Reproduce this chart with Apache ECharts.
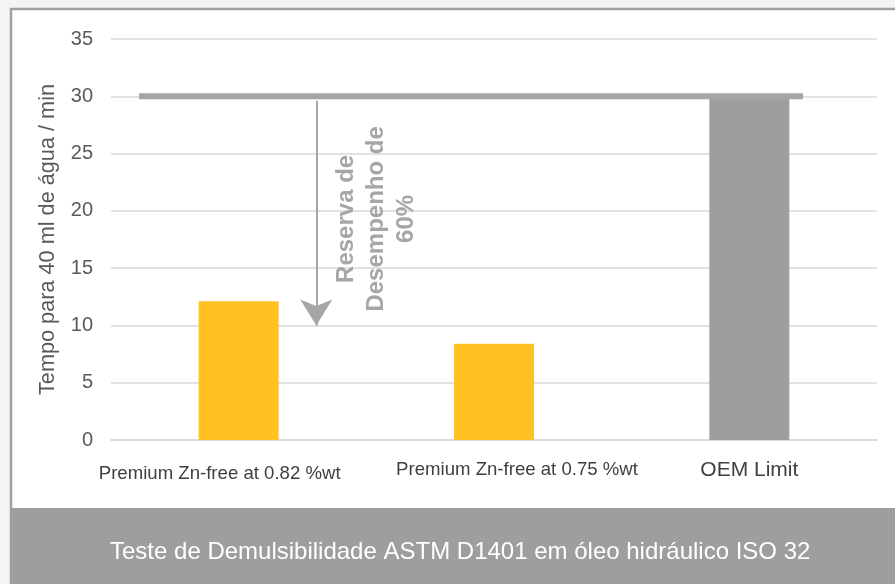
<!DOCTYPE html>
<html>
<head>
<meta charset="utf-8">
<script src="https://cdn.jsdelivr.net/npm/echarts@6/dist/echarts.min.js"></script>
<style>
html, body { margin: 0; padding: 0; background: #f4f4f4; }
#chart { width: 895px; height: 584px; }
</style>
</head>
<body>
<div id="chart"></div>
<script>
// dados
var categorias = ['Premium Zn-free at 0.82 %wt', 'Premium Zn-free at 0.75 %wt', 'OEM Limit'];
var tempos = [12.1, 8.4, 30];
var coresBarras = ['#FFC222', '#FFC222', '#9E9E9E'];
var yTicks = [0, 5, 10, 15, 20, 25, 30, 35];
var linhaLimite = [[-0.39, 30], [2.21, 30]];   // x em unidades de categoria
var seta = [[0.304, 29.6], [0.304, 10]];
var linhasReserva = ['Reserva de', 'Desempenho de', '60%'];
var posTexto = [0.54, 19.3];
var tituloRodape = 'Teste de Demulsibilidade ASTM D1401 em óleo hidráulico ISO 32';

var myChart = echarts.init(document.getElementById('chart'));
var fonte = '"Liberation Sans", Arial, sans-serif';

var option = {
    backgroundColor: '#f4f4f4',
    textStyle: { fontFamily: fonte },
    graphic: [
        { type: 'rect', z: -10, shape: { x: 11, y: 9, width: 900, height: 600 },
          style: { fill: '#ffffff', stroke: '#a0a0a0', lineWidth: 2.5 } },
        { type: 'rect', z: -9, shape: { x: 10, y: 508, width: 890, height: 80 },
          style: { fill: '#9e9e9e' } }
    ],
    title: {
        text: tituloRodape,
        left: 105, top: 535,
        textStyle: { color: '#ffffff', fontSize: 24, fontWeight: 'normal', fontFamily: fonte }
    },
    grid: { left: 111, right: 18, top: 39, bottom: 144 },
    xAxis: [
        {
            type: 'category',
            data: categorias,
            axisTick: { show: false },
            axisLine: { lineStyle: { color: '#d9d9d9', width: 1.5 } },
            axisLabel: {
                interval: 0,
                margin: 20,
                color: '#404040',
                formatter: function (v, i) {
                    return '{c' + i + '|' + v + '}';
                },
                rich: {
                    c0: { fontSize: 18.6, color: '#404040', padding: [4, 38, 0, 0], fontFamily: fonte },
                    c1: { fontSize: 18.6, color: '#404040', padding: [0, 0, 0, 46], fontFamily: fonte },
                    c2: { fontSize: 21, color: '#404040', padding: [0, 0, 0, 0], fontFamily: fonte }
                }
            }
        },
        {
            type: 'value', min: -0.5, max: 2.5, show: false
        }
    ],
    yAxis: {
        type: 'value',
        min: yTicks[0],
        max: yTicks[yTicks.length - 1],
        interval: yTicks[1] - yTicks[0],
        name: 'Tempo para 40 ml de água / min',
        nameLocation: 'middle',
        nameGap: 52,
        nameTextStyle: { color: '#595959', fontSize: 21.7, fontFamily: fonte },
        axisLine: { show: false },
        axisTick: { show: false },
        axisLabel: { color: '#595959', fontSize: 20, margin: 18 },
        splitLine: { lineStyle: { color: '#d9d9d9', width: 1.5 } }
    },
    series: [
        {
            name: 'Tempo',
            type: 'bar',
            barWidth: 80,
            data: tempos.map(function (v, i) {
                return { value: v, itemStyle: { color: coresBarras[i] } };
            })
        },
        {
            name: 'Limite',
            type: 'line',
            xAxisIndex: 1,
            symbol: 'none',
            z: 5,
            data: linhaLimite,
            lineStyle: { color: '#a5a5a5', width: 6 },
            markLine: {
                silent: true,
                symbol: ['none', 'arrow'],
                symbolSize: [24, 26],
                lineStyle: { color: '#a6a6a6', width: 2, type: 'solid' },
                label: { show: false },
                data: [[{ coord: seta[0] }, { coord: seta[1] }]]
            },
            markPoint: {
                silent: true,
                symbol: 'circle',
                symbolSize: 0,
                data: [{ coord: posTexto }],
                label: {
                    show: true,
                    position: 'inside',
                    formatter: function () {
                        return linhasReserva.map(function (s) { return '{l|' + s + '}'; }).join('\n');
                    },
                    rotate: 90,
                    rich: {
                        l: {
                            width: 210,
                            align: 'center',
                            color: '#a6a6a6',
                            fontSize: 24,
                            fontWeight: 'bold',
                            lineHeight: 30,
                            fontFamily: fonte
                        }
                    }
                }
            }
        }
    ]
};
myChart.setOption(option);
</script>
</body>
</html>
